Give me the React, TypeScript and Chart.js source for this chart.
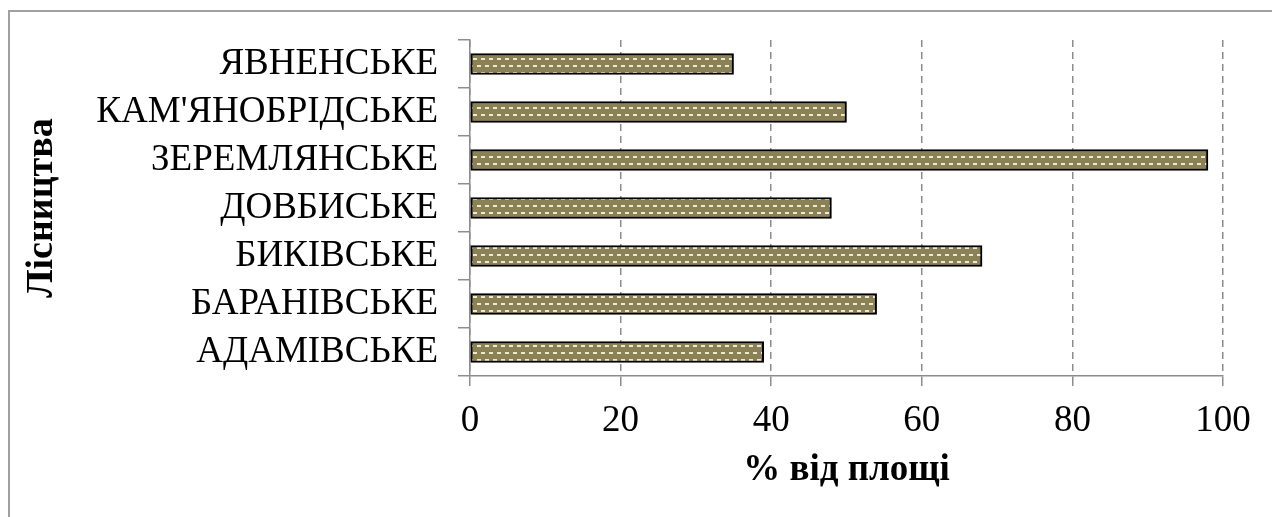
import React, { useEffect, useRef } from "react";
import { Chart, registerables } from "chart.js";

Chart.register(...registerables);

// Forestries (bottom to top) and their share of area, %
const categories = [
  "АДАМІВСЬКЕ",
  "БАРАНІВСЬКЕ",
  "БИКІВСЬКЕ",
  "ДОВБИСЬКЕ",
  "ЗЕРЕМЛЯНСЬКЕ",
  "КАМ'ЯНОБРІДСЬКЕ",
  "ЯВНЕНСЬКЕ",
];
const shares = [39, 54, 68, 48, 98, 50, 35];

const xMin = 0;
const xMax = 100;
const xStep = 20;

const xTitle = "% від площі";
const yTitle = "Лісництва";

const SERIF = "'Liberation Serif', 'Times New Roman', serif";
const AXIS_GRAY = "#8c8c8c";
const OLIVE = "#8a8155";

// Olive fill with staggered light dashes
function makePattern(): CanvasPattern | string {
  const tile = document.createElement("canvas");
  tile.width = 8;
  tile.height = 14;
  const c = tile.getContext("2d");
  if (!c) return OLIVE;
  c.fillStyle = OLIVE;
  c.fillRect(0, 0, 8, 14);
  c.fillStyle = "#eee9d2";
  c.fillRect(1, 2, 4, 2);
  c.fillRect(5, 9, 4, 2);
  c.fillRect(-3, 9, 4, 2);
  const ctx = document.createElement("canvas").getContext("2d");
  return ctx?.createPattern(tile, "repeat") ?? OLIVE;
}

export default function App() {
  const canvasRef = useRef<HTMLCanvasElement | null>(null);

  useEffect(() => {
    if (!canvasRef.current) return;
    const pattern = makePattern();
    const chart = new Chart(canvasRef.current, {
      type: "bar",
      data: {
        labels: categories,
        datasets: [
          {
            data: shares,
            backgroundColor: pattern as any,
            borderColor: "#000000",
            borderWidth: 2,
            borderSkipped: false,
            barThickness: 21,
          },
        ],
      },
      options: {
        indexAxis: "y",
        animation: false,
        responsive: false,
        maintainAspectRatio: false,
        layout: { padding: { left: 0, right: 49, top: 40, bottom: 0 } },
        plugins: {
          legend: { display: false },
          tooltip: { enabled: false },
        },
        scales: {
          x: {
            type: "linear",
            min: xMin,
            max: xMax,
            ticks: {
              stepSize: xStep,
              color: "#000",
              padding: 13,
              font: { family: SERIF, size: 37 },
            },
            grid: {
              color: AXIS_GRAY,
              lineWidth: 1.5,
              tickLength: 10,
              tickBorderDash: [],
              tickColor: AXIS_GRAY,
              tickWidth: 1.5,
            },
            border: { display: true, color: AXIS_GRAY, width: 1.5, dash: [7, 5] },
            title: {
              display: true,
              text: xTitle,
              color: "#000",
              font: { family: SERIF, size: 37, weight: "bold" },
              padding: { top: 0, bottom: 24 },
            },
            afterFit: (scale: any) => {
              scale.height = 517 - 376;
            },
          },
          y: {
            type: "category",
            reverse: true,
            ticks: {
              color: "#000",
              padding: 20,
              font: { family: SERIF, size: 37 },
            },
            grid: {
              offset: true,
              drawOnChartArea: false,
              color: AXIS_GRAY,
              lineWidth: 1.5,
              tickLength: 12,
            },
            border: { display: true, color: AXIS_GRAY, width: 1.5 },
            title: {
              display: true,
              text: yTitle,
              color: "#000",
              font: { family: SERIF, size: 38, weight: "bold" },
              padding: { top: 19, bottom: 0 },
            },
            afterFit: (scale: any) => {
              scale.width = 470;
              scale.paddingTop = 0;
              scale.paddingBottom = 0;
            },
          },
        },
      },
    });
    return () => chart.destroy();
  }, []);

  return (
    <div
      style={{
        position: "absolute",
        left: 0,
        top: 0,
        width: 1272,
        height: 517,
        overflow: "hidden",
        background: "#fff",
      }}
    >
      <div
        style={{
          position: "absolute",
          left: 8,
          top: 10,
          width: 1300,
          height: 600,
          borderTop: "2px solid #a0a0a0",
          borderLeft: "2px solid #a0a0a0",
        }}
      />
      <canvas
        ref={canvasRef}
        width={1272}
        height={517}
        style={{ position: "absolute", left: 0, top: 0, width: 1272, height: 517 }}
      />
    </div>
  );
}
